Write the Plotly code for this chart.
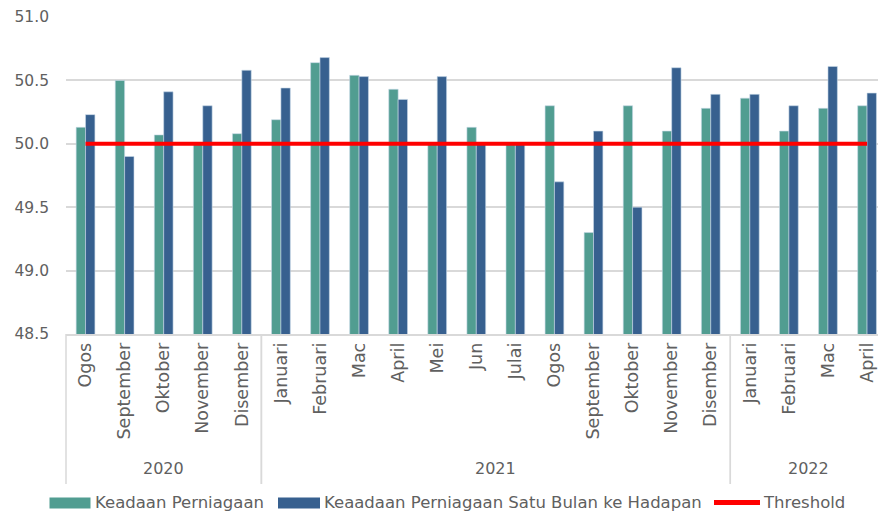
import plotly.graph_objects as go

years = ["2020"] * 5 + ["2021"] * 12 + ["2022"] * 4
months = ["Ogos", "September", "Oktober", "November", "Disember",
          "Januari", "Februari", "Mac", "April", "Mei", "Jun", "Julai",
          "Ogos", "September", "Oktober", "November", "Disember",
          "Januari", "Februari", "Mac", "April"]
keadaan = [50.13, 50.50, 50.07, 50.00, 50.08,
           50.19, 50.64, 50.54, 50.43, 50.00, 50.13, 50.00,
           50.30, 49.30, 50.30, 50.10, 50.28,
           50.36, 50.10, 50.28, 50.30]
satu_bulan = [50.23, 49.90, 50.41, 50.30, 50.58,
              50.44, 50.68, 50.53, 50.35, 50.53, 50.00, 50.00,
              49.70, 50.10, 49.50, 50.60, 50.39,
              50.39, 50.30, 50.61, 50.40]
threshold = [50.0] * len(months)
series_names = ["Keadaan Perniagaan",
                "Keaadaan Perniagaan Satu Bulan ke Hadapan",
                "Threshold"]

FONT = "DejaVu Sans"
GREY = "#606060"
TEAL = "#519D91"
BLUE = "#37608F"
RED = "#FF0000"
DIV = "#D9D9D9"

W, H = 878, 515
ML, MR, MT, MB = 66, 0, 17, 181
PW, PH = W - ML - MR, H - MT - MB

idx = list(range(len(months)))
XR = [-0.5, 20.28]


def px_x(p):
    return (p - ML) / PW


def px_y(p):
    return (H - MB - p) / PH


fig = go.Figure()
fig.add_trace(go.Bar(x=idx, y=keadaan, name=series_names[0], showlegend=False,
                     marker=dict(color=TEAL, line=dict(width=0.6, color="#c8d8e8"))))
fig.add_trace(go.Bar(x=idx, y=satu_bulan, name=series_names[1], showlegend=False,
                     marker=dict(color=BLUE, line=dict(width=0.6, color="#c8d8e8"))))
fig.add_trace(go.Scatter(x=idx, y=threshold, name=series_names[2], mode="lines",
                         showlegend=False, line=dict(color=RED, width=4)))

shapes = []
annotations = []

# year group labels and dividers
groups = []
for i, yv in enumerate(years):
    if not groups or groups[-1][0] != yv:
        groups.append([yv, i, i])
    else:
        groups[-1][2] = i

span = XR[1] - XR[0]
for yv, a, b in groups:
    annotations.append(dict(x=(a + b) / 2, xref="x", y=px_y(468), yref="paper",
                            text=yv, showarrow=False, yanchor="middle",
                            font=dict(family=FONT, size=16, color=GREY)))
    for edge in (a - 0.5, b + 0.5):
        p = (edge - XR[0]) / span
        if 0 <= p <= 1:
            shapes.append(dict(type="line", xref="paper", yref="paper",
                               x0=p, x1=p, y0=0, y1=px_y(484),
                               line=dict(color=DIV, width=1.5)))

# legend (drawn to match the reference's wide swatches)
ly = px_y(502.5)
legend_items = [  # (name, colour, swatch kind, swatch x0, x1, text x)
    (series_names[0], TEAL, "rect", 49.5, 90.5, 94),
    (series_names[1], BLUE, "rect", 278, 320, 323),
    (series_names[2], RED, "line", 714, 760, 762),
]
for nm, col, kind, x0, x1, tx in legend_items:
    if kind == "rect":
        shapes.append(dict(type="rect", xref="paper", yref="paper",
                           x0=px_x(x0), x1=px_x(x1), y0=px_y(497.5), y1=px_y(508.5),
                           fillcolor=col, line=dict(width=0)))
    else:
        shapes.append(dict(type="line", xref="paper", yref="paper",
                           x0=px_x(x0), x1=px_x(x1), y0=ly, y1=ly,
                           line=dict(color=col, width=5)))
    annotations.append(dict(x=px_x(tx), xref="paper", y=ly, yref="paper",
                            text=nm, showarrow=False, xanchor="left", yanchor="middle",
                            borderpad=0,
                            font=dict(family=FONT, size=16.5, color=GREY)))

fig.update_layout(
    width=W, height=H,
    margin=dict(l=ML, r=MR, t=MT, b=MB, autoexpand=False),
    plot_bgcolor="white", paper_bgcolor="white",
    barmode="group", bargap=0.52, bargroupgap=0,
    font=dict(family=FONT, color=GREY, size=16),
    showlegend=False,
    shapes=shapes,
    annotations=annotations,
)
fig.update_yaxes(range=[48.5, 51.0], dtick=0.5, tickformat=".1f",
                 showgrid=True, gridcolor=DIV, gridwidth=1.5,
                 zeroline=False, showline=False, ticks="", automargin=False,
                 ticklabelstandoff=16,
                 tickfont=dict(family=FONT, size=15.5, color=GREY))
fig.update_xaxes(range=XR, tickmode="array", tickvals=idx, ticktext=months,
                 tickangle=-90, showline=True, linecolor=DIV, linewidth=1.5,
                 showgrid=False, zeroline=False, automargin=False,
                 tickfont=dict(family=FONT, size=17.5, color=GREY), ticks="")

fig.write_html("out.html",
               config={"displayModeBar": False},
               post_script="document.body.style.margin='0';document.body.style.overflow='hidden';")
